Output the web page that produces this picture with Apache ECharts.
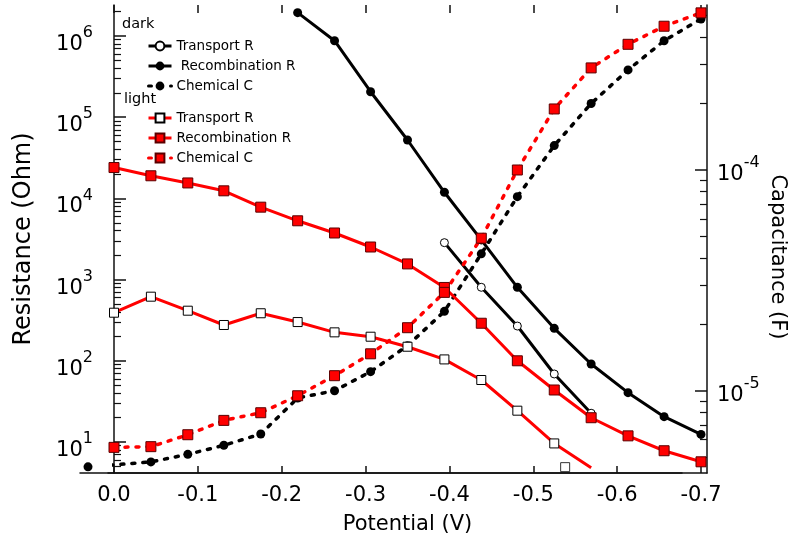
<!DOCTYPE html>
<html>
<head>
<meta charset="utf-8">
<script src="https://cdn.jsdelivr.net/npm/echarts@6/dist/echarts.min.js"></script>
<style>
  html, body { margin: 0; padding: 0; background: #fff; }
  #chart { width: 790px; height: 550px; }
</style>
</head>
<body>
<div id="chart"></div>
<script>
// Electrode potential (V) of each measurement
const potentialLight = [0.0, -0.044, -0.088, -0.131, -0.175, -0.219, -0.263, -0.306, -0.350,
                        -0.394, -0.438, -0.481, -0.525, -0.569, -0.613, -0.656, -0.700];
const potentialDarkC = [0.031, -0.044, -0.088, -0.131, -0.175, -0.219, -0.263, -0.306, -0.350,
                        -0.394, -0.438, -0.481, -0.525, -0.569, -0.613, -0.656, -0.700];
const potentialDarkRecomb = [-0.219, -0.263, -0.306, -0.350, -0.394, -0.438, -0.481, -0.525,
                             -0.569, -0.613, -0.656, -0.700];
const potentialDarkTransport = [-0.394, -0.438, -0.481, -0.525, -0.569];
const potentialLightTransport = [0.0, -0.044, -0.088, -0.131, -0.175, -0.219, -0.263, -0.306,
                                 -0.350, -0.394, -0.438, -0.481, -0.525, -0.569];

// dark: resistances (Ohm) and chemical capacitance (F)
const darkTransportR = [2850, 804, 268, 68.8, 22.6];
const darkRecombR = [1.94e6, 8.75e5, 2.06e5, 5.24e4, 1.19e4, 3080, 804, 251, 91.4, 40.5, 20.5, 12.4];
const darkChemC = [4.52e-6, 4.76e-6, 5.15e-6, 5.66e-6, 6.37e-6, 9.27e-6, 1.00e-5, 1.22e-5, 1.60e-5,
                   2.29e-5, 4.17e-5, 7.57e-5, 1.29e-4, 2.00e-4, 2.84e-4, 3.85e-4, 4.83e-4];

// light: resistances (Ohm) and chemical capacitance (F)
const lightTransportR = [391, 616, 414, 276, 385, 300, 224, 198, 149, 104, 58, 24.3, 9.6, 4.8];
const lightRecombR = [24000, 19000, 15500, 12400, 7800, 5300, 3750, 2520, 1560, 800, 290, 100,
                      43.7, 19.9, 11.9, 7.8, 5.7];
const lightChemC = [5.54e-6, 5.58e-6, 6.32e-6, 7.34e-6, 7.95e-6, 9.49e-6, 1.17e-5, 1.47e-5, 1.93e-5,
                    2.79e-5, 4.91e-5, 1.00e-4, 1.89e-4, 2.90e-4, 3.71e-4, 4.48e-4, 5.15e-4];
// single transport point off the light trace
const lightTransportExtraPotential = [-0.538];
const lightTransportExtraR = [4.9];

// axis ranges and labelled decades
const potentialRange = [-0.7, 0.0];
const resistanceRange = [4.15, 2.41e6];
const capacitanceRange = [4.24e-6, 5.59e-4];
const resistanceTicks = [10, 100, 1000, 1e4, 1e5, 1e6];
const capacitanceTicks = [1e-5, 1e-4];

const FONT = 'DejaVu Sans';
const AXIS_COLOR = '#111';

function pairs(xs, ys) { return xs.map((x, i) => [x, ys[i]]); }

// 2..9 × 10^n sub-ticks that fall inside a range
function minorTicks(range) {
  const out = [];
  const lo = Math.floor(Math.log10(range[0]));
  const hi = Math.ceil(Math.log10(range[1]));
  for (let e = lo; e <= hi; e++) {
    for (let m = 2; m <= 9; m++) {
      const v = Number((m * Math.pow(10, e)).toPrecision(6));
      if (v >= range[0] && v <= range[1]) out.push(v);
    }
  }
  return out;
}

function powerLabel(v) {
  return '{b|10}{s|' + Math.round(Math.log10(v)) + '}';
}
const powerRich = {
  b: { fontFamily: FONT, fontSize: 21, color: '#000', lineHeight: 30, verticalAlign: 'bottom' },
  s: { fontFamily: FONT, fontSize: 16, color: '#000', lineHeight: 17, verticalAlign: 'top' }
};

const legendText = {
  'dark Transport R': 'Transport R',
  'dark Recombination R': ' Recombination R',
  'dark Chemical C': 'Chemical C',
  'light Transport R': 'Transport R',
  'light Recombination R': 'Recombination R',
  'light Chemical C': 'Chemical C'
};

const solid = (color) => ({ color: color, width: 3 });
const dashed = (color) => ({ color: color, width: 3.5, type: [3, 8], cap: 'round' });

const lightTransportData = pairs(potentialLightTransport, lightTransportR);
// the last light transport value has no marker
lightTransportData[lightTransportData.length - 1] = {
  value: lightTransportData[lightTransportData.length - 1],
  symbol: 'none'
};

const lineBase = { type: 'line', clip: false, showAllSymbol: true, animation: false,
                   emphasis: { disabled: true }, xAxisIndex: 0 };

const series = [
  Object.assign({}, lineBase, {
    name: 'dark Transport R', yAxisIndex: 0,
    data: pairs(potentialDarkTransport, darkTransportR),
    symbol: 'circle', symbolSize: 8,
    itemStyle: { color: '#fff', borderColor: '#000', borderWidth: 1 },
    lineStyle: solid('#000')
  }),
  Object.assign({}, lineBase, {
    name: 'dark Recombination R', yAxisIndex: 0,
    data: pairs(potentialDarkRecomb, darkRecombR),
    symbol: 'circle', symbolSize: 9,
    itemStyle: { color: '#000' },
    lineStyle: solid('#000')
  }),
  Object.assign({}, lineBase, {
    name: 'dark Chemical C', yAxisIndex: 2,
    data: pairs(potentialDarkC, darkChemC),
    symbol: 'circle', symbolSize: 9,
    itemStyle: { color: '#000' },
    lineStyle: dashed('#000')
  }),
  Object.assign({}, lineBase, {
    name: 'light Transport R', yAxisIndex: 0,
    data: lightTransportData,
    symbol: 'rect', symbolSize: 9,
    itemStyle: { color: '#fff', borderColor: '#000', borderWidth: 1 },
    lineStyle: solid('#ff0000')
  }),
  Object.assign({}, lineBase, {
    name: 'light Recombination R', yAxisIndex: 0,
    data: pairs(potentialLight, lightRecombR),
    symbol: 'rect', symbolSize: 10,
    itemStyle: { color: '#ff0000', borderColor: '#5a0000', borderWidth: 1 },
    lineStyle: solid('#ff0000')
  }),
  Object.assign({}, lineBase, {
    name: 'light Chemical C', yAxisIndex: 2,
    data: pairs(potentialLight, lightChemC),
    symbol: 'rect', symbolSize: 10,
    itemStyle: { color: '#ff0000', borderColor: '#5a0000', borderWidth: 1 },
    lineStyle: dashed('#ff0000')
  }),
  {
    type: 'scatter', name: 'light Transport R extra', xAxisIndex: 0, yAxisIndex: 0,
    clip: false, animation: false, emphasis: { disabled: true },
    data: pairs(lightTransportExtraPotential, lightTransportExtraR),
    symbol: 'rect', symbolSize: 9,
    itemStyle: { color: '#fff', borderColor: '#000', borderWidth: 1 }
  }
];

const hiddenAxisParts = {
  axisTick: { show: false }, axisLabel: { show: false }, splitLine: { show: false }
};
const frameLine = { show: true, lineStyle: { color: AXIS_COLOR, width: 1.5 } };
const potentialFormatter = (v) => (Math.abs(v) < 1e-9 ? '0.0' : v.toFixed(1));

const legendBase = {
  orient: 'vertical', left: 147, itemWidth: 23, itemHeight: 11, itemGap: 4,
  selectedMode: false, padding: 0,
  formatter: (n) => legendText[n],
  lineStyle: { width: 3 },
  textStyle: { fontFamily: FONT, fontSize: 13.5, color: '#000', lineHeight: 16 }
};

const option = {
  backgroundColor: '#fff',
  animation: false,
  grid: [
    { left: 114, right: 89, top: 5, bottom: 77, outerBoundsMode: 'none' },  // plot area
    { left: 108, right: 83, top: 5, bottom: 77, outerBoundsMode: 'none' },  // top frame
    { left: 80, right: 108, top: 5, bottom: 77, outerBoundsMode: 'none' }   // bottom frame
  ],
  xAxis: [
    {
      gridIndex: 0, type: 'value', position: 'bottom', inverse: true,
      min: potentialRange[0], max: potentialRange[1], interval: 0.1,
      axisLine: { show: false },
      axisTick: { inside: true, length: 7, lineStyle: { color: AXIS_COLOR, width: 1.5 } },
      axisLabel: { fontFamily: FONT, fontSize: 21, color: '#000', margin: 12,
                   formatter: potentialFormatter },
      splitLine: { show: false },
      name: 'Potential (V)', nameLocation: 'middle', nameGap: 41,
      nameTextStyle: { fontFamily: FONT, fontSize: 21, color: '#000' }
    },
    {
      gridIndex: 0, type: 'value', position: 'top', inverse: true,
      min: potentialRange[0], max: potentialRange[1], interval: 0.1,
      axisLine: { show: false },
      axisTick: { inside: true, length: 8, lineStyle: { color: AXIS_COLOR, width: 1.5 } },
      axisLabel: { show: false }, splitLine: { show: false }
    },
    Object.assign({ gridIndex: 1, type: 'value', position: 'top', min: 0, max: 1,
                    axisLine: frameLine }, hiddenAxisParts),
    Object.assign({ gridIndex: 2, type: 'value', position: 'bottom', min: 0, max: 1,
                    axisLine: frameLine }, hiddenAxisParts)
  ],
  yAxis: [
    {
      gridIndex: 0, type: 'log', position: 'left', offset: 6,
      min: resistanceRange[0], max: resistanceRange[1],
      axisLine: frameLine,
      axisTick: { inside: true, length: 12, customValues: resistanceTicks,
                  lineStyle: { color: AXIS_COLOR, width: 1.5 } },
      axisLabel: { customValues: resistanceTicks, formatter: powerLabel, rich: powerRich,
                   margin: 15, padding: [8, 0, 0, 0] },
      splitLine: { show: false },
      name: 'Resistance (Ohm)', nameLocation: 'middle', nameGap: 72,
      nameTextStyle: { fontFamily: FONT, fontSize: 24, color: '#000' }
    },
    {
      gridIndex: 0, type: 'log', position: 'left', offset: 6,
      min: resistanceRange[0], max: resistanceRange[1],
      axisLine: { show: false },
      axisTick: { inside: true, length: 7, customValues: minorTicks(resistanceRange),
                  lineStyle: { color: AXIS_COLOR, width: 1.2 } },
      axisLabel: { show: false }, splitLine: { show: false }
    },
    {
      gridIndex: 0, type: 'log', position: 'right', offset: 6,
      min: capacitanceRange[0], max: capacitanceRange[1],
      axisLine: frameLine,
      axisTick: { inside: true, length: 12, customValues: capacitanceTicks,
                  lineStyle: { color: AXIS_COLOR, width: 1.5 } },
      axisLabel: { customValues: capacitanceTicks, formatter: powerLabel, rich: powerRich,
                   margin: 10 },
      splitLine: { show: false }
    },
    {
      gridIndex: 0, type: 'log', position: 'right', offset: 6,
      min: capacitanceRange[0], max: capacitanceRange[1],
      axisLine: { show: false },
      axisTick: { inside: true, length: 7, customValues: minorTicks(capacitanceRange),
                  lineStyle: { color: AXIS_COLOR, width: 1.2 } },
      axisLabel: { show: false }, splitLine: { show: false }
    },
    { gridIndex: 1, type: 'value', show: false },
    { gridIndex: 2, type: 'value', show: false }
  ],
  legend: [
    Object.assign({}, legendBase, {
      data: ['dark Transport R', 'dark Recombination R', 'dark Chemical C'], top: 38
    }),
    Object.assign({}, legendBase, {
      data: ['light Transport R', 'light Recombination R', 'light Chemical C'], top: 110
    })
  ],
  graphic: [
    { type: 'text', left: 122, top: 17,
      style: { text: 'dark', font: '14.5px "DejaVu Sans"', fill: '#000' } },
    { type: 'text', left: 124, top: 92,
      style: { text: 'light', font: '14.5px "DejaVu Sans"', fill: '#000' } },
    { type: 'text', x: 777, y: 257, rotation: -Math.PI / 2,
      style: { text: 'Capacitance (F)', font: '21px "DejaVu Sans"', fill: '#000',
               align: 'center', verticalAlign: 'middle',
               textAlign: 'center', textVerticalAlign: 'middle' } }
  ],
  series: series
};

const chart = echarts.init(document.getElementById('chart'), null, { renderer: 'canvas' });
chart.setOption(option);
</script>
</body>
</html>
